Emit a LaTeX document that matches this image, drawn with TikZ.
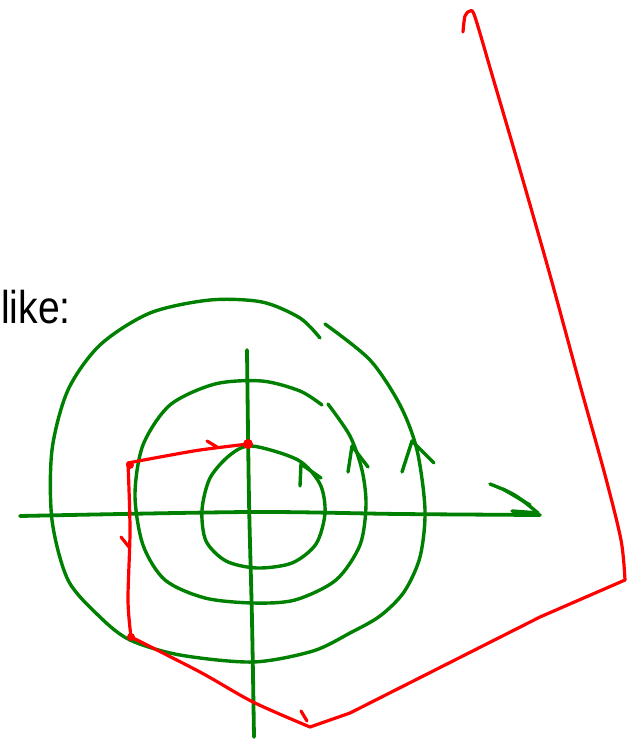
\documentclass[tikz,border=0pt]{standalone}
\usepackage{fontspec}
\setmainfont{Liberation Sans}
\begin{document}
\begin{tikzpicture}[x=1pt,y=-1pt,
  gline/.style={draw={rgb,255:red,0;green,128;blue,0}, line width=3.4pt, line cap=round, line join=round},
  axis/.style={gline, line width=3.8pt},
  rline/.style={draw={rgb,255:red,255;green,0;blue,0}, line width=3.2pt, line cap=round, line join=round}]
\useasboundingbox (0,0) rectangle (638,740);
% text
\node[anchor=base west, inner sep=0pt, font=\fontsize{46}{46}\selectfont, xscale=0.85, transform shape] (txt) at (1,323) {like:};
% axes
\draw[axis] plot[smooth] coordinates {(20,516) (250,512) (400,514) (540,515)};
\draw[axis] plot[smooth] coordinates {(247,350) (249,500) (252,620) (254,737)};
\draw[gline] (490,484) .. controls (515,494) .. (538,513);
\draw[gline] (503,489) -- (530,505);
\draw[gline] (512,511) -- (538,513);
% inner
\draw[gline] plot[smooth cycle] coordinates {(252,446) (298,460) (320,484) (325,513) (316,544) (292,563) (257,568) (226,561) (206,541) (202,510) (210,478) (230,455)};
\draw[gline] (300,486) -- (301,464) -- (321,478);
% middle
\draw[gline] plot[smooth] coordinates {(328,404) (350,436) (362,470) (366,505) (360,545) (336,580) (295,600) (253,603) (205,598) (165,580) (143,545) (135,495) (143,445) (170,405) (215,384) (262,381) (300,391) (322,405)};
\draw[gline] (348,472) -- (352,446) -- (368,467);
% outer
\draw[gline] plot[smooth] coordinates {(325,324) (370,360) (400,405) (417,450) (425,510) (420,557) (404,592) (380,616) (350,633) (313,651) (253,662) (180,655) (130,640) (100,617) (68,580) (52,520) (52,450) (68,390) (100,345) (150,313) (210,300) (262,302) (300,318) (320,338)};
\draw[gline] (402,472) -- (412,441) -- (434,463);
% red path
\draw[rline] plot[smooth] coordinates {(463,32) (465,16) (470,11) (475,17) (493,78) (520,170) (550,275) (580,385) (605,475) (621,540) (625,580)};
\draw[rline] (625,580) -- (540,617) -- (350,713) -- (310,727);
\draw[rline] plot[smooth] coordinates {(310,727) (253,702) (200,672) (131,637)};
\draw[rline] plot[smooth] coordinates {(131,637) (128,600) (130,530) (128,463)};
\draw[rline] plot[smooth] coordinates {(128,463) (160,457) (200,450) (248,444)};
\fill[red] (248,444) circle (5pt);
\fill[red] (130,465) circle (4pt);
\fill[red] (131,637) circle (4pt);
\draw[rline] (207,441) -- (217,447);
\draw[rline] (121,537) -- (129,547);
\draw[rline] (301,711) -- (307,721);
\end{tikzpicture}
\end{document}
